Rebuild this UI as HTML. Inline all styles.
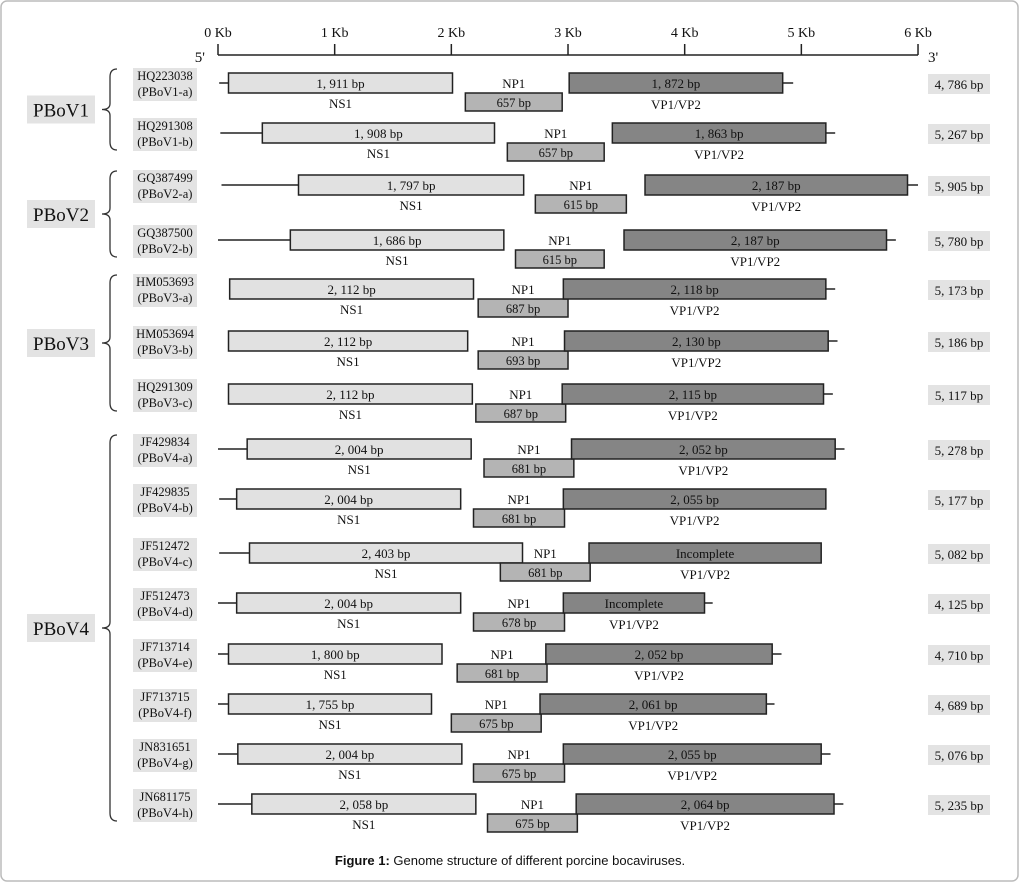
<!DOCTYPE html>
<html><head><meta charset="utf-8"><style>
body{margin:0;background:#fff}
svg{display:block}
text{font-family:"Liberation Serif",serif;fill:#111}
</style></head><body>
<svg width="1020" height="884" viewBox="0 0 1020 884">
<rect x="1" y="1" width="1017" height="880" rx="6" fill="#fff" stroke="#bbb" stroke-width="1.5"/>
<g id="axis"></g>
<g id="rows"></g>
<g id="groups"></g>
<text x="510" y="865" text-anchor="middle" style="font-family:'Liberation Sans',sans-serif;font-size:13px"><tspan font-weight="bold">Figure 1:</tspan> Genome structure of different porcine bocaviruses.</text>
</svg>
<script>
const ticks=[0,1,2,3,4,5,6];
const tickLabels=["0 Kb","1 Kb","2 Kb","3 Kb","4 Kb","5 Kb","6 Kb"];
const ids=["HQ223038","HQ291308","GQ387499","GQ387500","HM053693","HM053694","HQ291309","JF429834","JF429835","JF512472","JF512473","JF713714","JF713715","JN831651","JN681175"];
const strains=["PBoV1-a","PBoV1-b","PBoV2-a","PBoV2-b","PBoV3-a","PBoV3-b","PBoV3-c","PBoV4-a","PBoV4-b","PBoV4-c","PBoV4-d","PBoV4-e","PBoV4-f","PBoV4-g","PBoV4-h"];
const lineStart=[0.01,0.02,0.03,0,0.10,0.09,0.09,0,0.01,0.01,0,0,0,0,0];
const ns1Start=[0.09,0.38,0.69,0.62,0.10,0.09,0.09,0.25,0.16,0.27,0.16,0.09,0.09,0.17,0.29];
const ns1End=[2.01,2.37,2.62,2.45,2.19,2.14,2.18,2.17,2.08,2.61,2.08,1.92,1.83,2.09,2.21];
const np1Start=[2.12,2.48,2.72,2.55,2.23,2.23,2.21,2.28,2.19,2.42,2.19,2.05,2.00,2.19,2.31];
const np1End=[2.95,3.31,3.50,3.31,3.00,3.00,2.98,3.05,2.97,3.19,2.97,2.82,2.77,2.97,3.08];
const vpStart=[3.01,3.38,3.66,3.48,2.96,2.97,2.95,3.03,2.96,3.18,2.96,2.81,2.76,2.96,3.07];
const vpEnd=[4.84,5.21,5.91,5.73,5.21,5.23,5.19,5.29,5.21,5.17,4.17,4.75,4.70,5.17,5.28];
const lineEnd=[4.93,5.29,6.00,5.81,5.29,5.31,5.27,5.37,5.21,5.17,4.24,4.83,4.77,5.25,5.36];
const ns1Len=["1, 911 bp","1, 908 bp","1, 797 bp","1, 686 bp","2, 112 bp","2, 112 bp","2, 112 bp","2, 004 bp","2, 004 bp","2, 403 bp","2, 004 bp","1, 800 bp","1, 755 bp","2, 004 bp","2, 058 bp"];
const np1Len=["657 bp","657 bp","615 bp","615 bp","687 bp","693 bp","687 bp","681 bp","681 bp","681 bp","678 bp","681 bp","675 bp","675 bp","675 bp"];
const vpLen=["1, 872 bp","1, 863 bp","2, 187 bp","2, 187 bp","2, 118 bp","2, 130 bp","2, 115 bp","2, 052 bp","2, 055 bp","Incomplete","Incomplete","2, 052 bp","2, 061 bp","2, 055 bp","2, 064 bp"];
const totalLen=["4, 786 bp","5, 267 bp","5, 905 bp","5, 780 bp","5, 173 bp","5, 186 bp","5, 117 bp","5, 278 bp","5, 177 bp","5, 082 bp","4, 125 bp","4, 710 bp","4, 689 bp","5, 076 bp","5, 235 bp"];
const rowTop=[73,123,175,230,279,331,384,439,489,543,593,644,694,744,794];
const groupNames=["PBoV1","PBoV2","PBoV3","PBoV4"];
const groupFirst=[0,2,4,7];
const groupLast=[1,3,6,14];

const NS="http://www.w3.org/2000/svg";
const X=kb=>218+kb*116.67;
function mk(tag,attrs,parent,txt){const e=document.createElementNS(NS,tag);for(const k in attrs)e.setAttribute(k,attrs[k]);if(txt!==undefined)e.textContent=txt;parent.appendChild(e);return e;}
const axis=document.getElementById('axis');
let e=mk('line',{x1:X(0),x2:X(6),y1:55,y2:55,stroke:'#222','stroke-width':1.5},axis);


ticks.forEach((t,i)=>{
  let l=mk('line',{x1:X(t),x2:X(t),y1:44,y2:55,stroke:'#222','stroke-width':1.5},axis);
  
  
  let tx=mk('text',{x:X(t),y:37,'text-anchor':'middle','font-size':14},axis,tickLabels[i]);
  
  
});
e=mk('text',{x:205,y:62,'text-anchor':'end','font-size':15},axis,"5'");


e=mk('text',{x:928,y:62,'font-size':15},axis,"3'");



const rows=document.getElementById('rows');
ids.forEach((id,i)=>{
  const t=rowTop[i];
  const g=mk('g',{},rows);
  
  
  let r=mk('rect',{x:133,y:t-5,width:64,height:33,fill:'#e3e3e3'},g);
  
  
  let a=mk('text',{x:165,y:t+7,'text-anchor':'middle','font-size':12.5},g,id);
  
  
  let b=mk('text',{x:165,y:t+23,'text-anchor':'middle','font-size':12.5},g,'('+strains[i]+')');
  
  
  let ln=mk('line',{x1:X(lineStart[i]),x2:X(ns1Start[i]),y1:t+10,y2:t+10,stroke:'#222','stroke-width':1.5},g);
  
  
  let ln2=mk('line',{x1:X(vpEnd[i]),x2:X(lineEnd[i]),y1:t+10,y2:t+10,stroke:'#222','stroke-width':1.5},g);
  
  
  let n=mk('rect',{x:X(ns1Start[i]),y:t,width:X(ns1End[i])-X(ns1Start[i]),height:20,fill:'#e1e1e1',stroke:'#222','stroke-width':1.5},g);
  
  
  let nt=mk('text',{x:(X(ns1Start[i])+X(ns1End[i]))/2,y:t+15,'text-anchor':'middle','font-size':13},g,ns1Len[i]);
  
  
  let nl=mk('text',{x:(X(ns1Start[i])+X(ns1End[i]))/2,y:t+35,'text-anchor':'middle','font-size':13},g,'NS1');
  
  
  const pc=(X(np1Start[i])+X(np1End[i]))/2;
  let p=mk('rect',{x:X(np1Start[i]),y:t+20,width:X(np1End[i])-X(np1Start[i]),height:18,fill:'#b4b4b4',stroke:'#222','stroke-width':1.5},g);
  
  
  let pt=mk('text',{x:pc,y:t+34,'text-anchor':'middle','font-size':12.5},g,np1Len[i]);
  
  
  let pl=mk('text',{x:pc,y:t+15,'text-anchor':'middle','font-size':13},g,'NP1');
  
  
  const vc=(X(vpStart[i])+X(vpEnd[i]))/2;
  let v=mk('rect',{x:X(vpStart[i]),y:t,width:X(vpEnd[i])-X(vpStart[i]),height:20,fill:'#858585',stroke:'#222','stroke-width':1.5},g);
  
  
  let vt=mk('text',{x:vc,y:t+15,'text-anchor':'middle','font-size':13},g,vpLen[i]);
  
  
  let vl=mk('text',{x:vc,y:t+36,'text-anchor':'middle','font-size':13},g,'VP1/VP2');
  
  
  let tb=mk('rect',{x:928,y:t+1,width:62,height:20,fill:'#e3e3e3'},g);
  
  
  let tt=mk('text',{x:959,y:t+16,'text-anchor':'middle','font-size':13},g,totalLen[i]);
  
  
});

const groups=document.getElementById('groups');
groupNames.forEach((gn,k)=>{
  const y1=rowTop[groupFirst[k]]-4, y2=rowTop[groupLast[k]]+27, ym=(y1+y2)/2;
  let br=mk('path',{d:`M117 ${y1} Q110 ${y1} 110 ${y1+8} L110 ${ym-6} Q110 ${ym} 102 ${ym} Q110 ${ym} 110 ${ym+6} L110 ${y2-8} Q110 ${y2} 117 ${y2}`,fill:'none',stroke:'#333','stroke-width':1.3},groups);
  
  
  let bg=mk('rect',{x:27,y:ym-14,width:68,height:28,fill:'#e3e3e3'},groups);
  
  
  let tx=mk('text',{x:61,y:ym+7,'text-anchor':'middle','font-size':19},groups,gn);
  
  
});
</script>
</body></html>
